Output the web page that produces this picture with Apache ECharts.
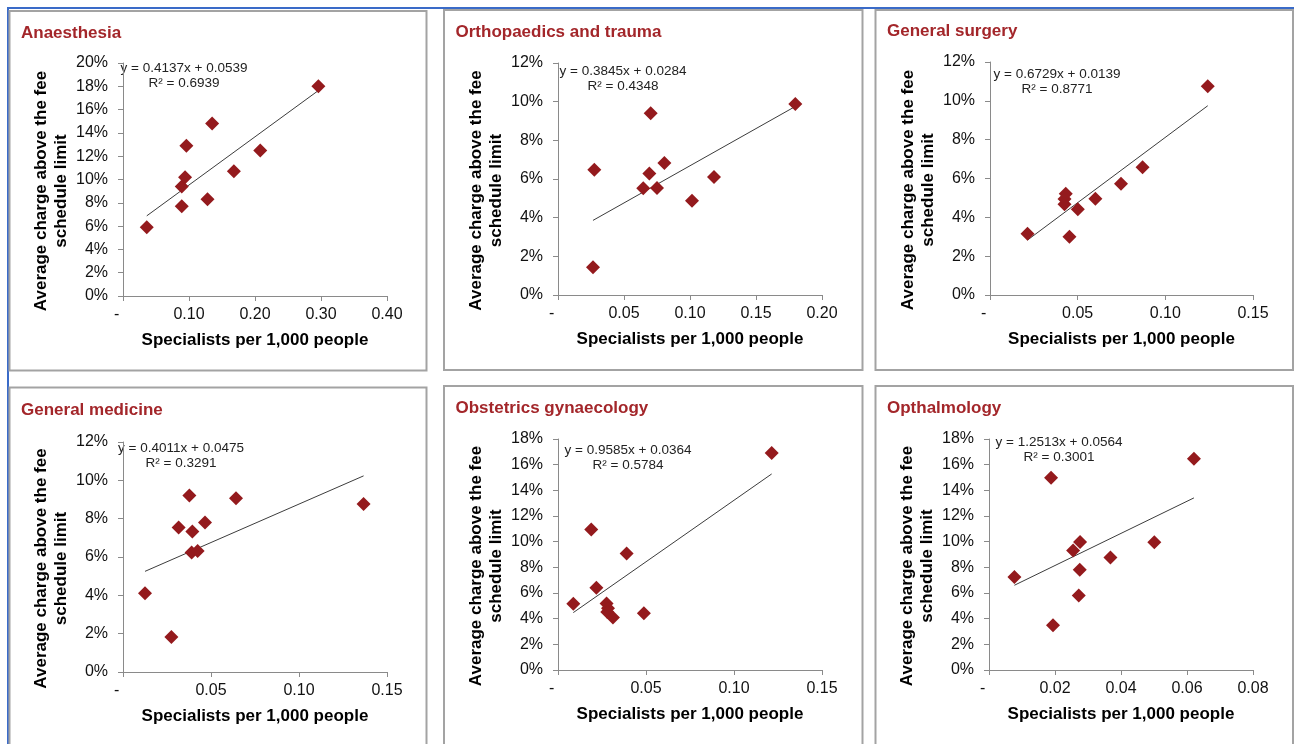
<!DOCTYPE html>
<html>
<head>
<meta charset="utf-8">
<title>Specialists per 1,000 people vs average charge above the fee schedule limit</title>
<script src="https://cdn.jsdelivr.net/npm/echarts@6/dist/echarts.min.js"></script>
<style>
  html, body { margin: 0; padding: 0; background: #ffffff; }
  #chart { width: 1294px; height: 744px; }
</style>
</head>
<body>
<div id="chart"></div>
<script>
// ---- data: specialists per 1,000 people (x) vs average charge above the fee schedule limit (y)
const titles = ['Anaesthesia', 'Orthopaedics and trauma', 'General surgery',
                'General medicine', 'Obstetrics gynaecology', 'Opthalmology'];

const anaesthesiaX  = [0.036, 0.089, 0.089, 0.094, 0.096, 0.135, 0.128, 0.168, 0.208, 0.296];
const anaesthesiaY  = [0.059, 0.077, 0.094, 0.102, 0.129, 0.148, 0.083, 0.107, 0.125, 0.180];

const orthopaedicsX = [0.0265, 0.0275, 0.0646, 0.0692, 0.0702, 0.0750, 0.0806, 0.1015, 0.1182, 0.1798];
const orthopaedicsY = [0.0143, 0.0648, 0.0552, 0.0629, 0.0940, 0.0553, 0.0683, 0.0488, 0.0610, 0.0988];

const surgeryX      = [0.0214, 0.0425, 0.0425, 0.0432, 0.0453, 0.0501, 0.0601, 0.0747, 0.0870, 0.1242];
const surgeryY      = [0.0316, 0.0467, 0.0494, 0.0522, 0.0300, 0.0441, 0.0496, 0.0573, 0.0658, 0.1075];

const medicineX     = [0.0125, 0.0275, 0.0316, 0.0377, 0.0394, 0.0390, 0.0424, 0.0466, 0.0642, 0.1367];
const medicineY     = [0.0411, 0.0182, 0.0754, 0.0921, 0.0733, 0.0623, 0.0631, 0.0780, 0.0907, 0.0877];

const obstetricsX   = [0.0087, 0.0189, 0.0218, 0.0276, 0.0284, 0.0280, 0.0312, 0.0390, 0.0488, 0.1214];
const obstetricsY   = [0.0516, 0.1094, 0.0641, 0.0519, 0.0482, 0.0451, 0.0410, 0.0908, 0.0443, 0.1691];

const opthalmologyX = [0.0077, 0.0188, 0.0194, 0.0255, 0.0276, 0.0275, 0.0272, 0.0368, 0.0501, 0.0621];
const opthalmologyY = [0.0724, 0.1499, 0.0348, 0.0931, 0.0998, 0.0781, 0.0581, 0.0877, 0.0996, 0.1647];

// linear trendline coefficients and fit quality as printed on each chart
const slopes     = [0.4137, 0.3845, 0.6729, 0.4011, 0.9585, 1.2513];
const intercepts = [0.0539, 0.0284, 0.0139, 0.0475, 0.0364, 0.0564];
const rSquared   = ['0.6939', '0.4348', '0.8771', '0.3291', '0.5784', '0.3001'];

// axis scales
const xMax  = [0.40, 0.20, 0.15, 0.15, 0.15, 0.08];
const xStep = [0.10, 0.05, 0.05, 0.05, 0.05, 0.02];
const yMax  = [0.20, 0.12, 0.12, 0.12, 0.18, 0.18];
const yStep = [0.02, 0.02, 0.02, 0.02, 0.02, 0.02];

const xSets = [anaesthesiaX, orthopaedicsX, surgeryX, medicineX, obstetricsX, opthalmologyX];
const ySets = [anaesthesiaY, orthopaedicsY, surgeryY, medicineY, obstetricsY, opthalmologyY];

// ---- layout
const FONT = '"Liberation Sans", Arial, Helvetica, sans-serif';
const TITLE_RED = '#A3262A';
const MARKER_RED = '#941A1D';
const AXIS_GREY = '#8a8a8a';

// panel frames [left, top, right, bottom]
const frames = [
  [9.5, 11, 426.5, 370.5], [444, 10, 862.5, 370], [875.5, 10, 1293, 370],
  [9.5, 387.5, 426.5, 760], [444, 386, 862.5, 760], [875.5, 386, 1293, 760]
];
// plot areas [left, top, width, height]
const plots = [
  [123, 63, 264, 233], [558, 63, 264, 232], [990, 62, 263, 233],
  [123, 442, 264, 230], [558, 439, 264, 231], [989, 439, 264, 231]
];
// equation label: first-line centre, offset from plot top-left
const eqOffsets = [[61, 5], [65, 8], [67, 12], [58, 6], [70, 11], [70, 3]];
const titleDy = [22, 22.5, 21, 22.5, 22, 22];

const grids = [], xAxes = [], yAxes = [], series = [], graphics = [];

// outer blue frame
graphics.push({ type: 'rect', shape: { x: 7, y: 7, width: 1294, height: 2 }, style: { fill: '#3A6BC8' }, silent: true });
graphics.push({ type: 'rect', shape: { x: 7, y: 7, width: 2, height: 740 }, style: { fill: '#3A6BC8' }, silent: true });

titles.forEach((title, i) => {
  const [fl, ft, fr, fb] = frames[i];
  const [gl, gt, gw, gh] = plots[i];

  graphics.push({
    type: 'rect', silent: true,
    shape: { x: fl, y: ft, width: fr - fl, height: fb - ft },
    style: { fill: 'none', stroke: '#a3a3a3', lineWidth: 2 }
  });
  graphics.push({
    type: 'text', silent: true, x: fl + 11.5, y: ft + titleDy[i],
    style: { text: title, font: 'bold 17px ' + FONT, fill: TITLE_RED, verticalAlign: 'middle', align: 'left' }
  });
  graphics.push({
    type: 'text', silent: true, x: gl - 71.6, y: gt + gh / 2 + 11.5, rotation: Math.PI / 2,
    style: {
      text: 'Average charge above the fee\nschedule limit',
      font: 'bold 17px ' + FONT, fill: '#000', align: 'center', verticalAlign: 'middle', lineHeight: 20
    }
  });
  graphics.push({
    type: 'text', silent: true, x: gl + eqOffsets[i][0], y: gt + eqOffsets[i][1] - 7.5,
    style: {
      text: 'y = ' + slopes[i].toFixed(4) + 'x + ' + intercepts[i].toFixed(4) + '\nR² = ' + rSquared[i],
      font: '13.5px ' + FONT, fill: '#222', align: 'center', verticalAlign: 'top', lineHeight: 15
    }
  });

  grids.push({ left: gl, top: gt, width: gw, height: gh, containLabel: false, outerBoundsMode: 'none' });

  xAxes.push({
    gridIndex: i, type: 'value', min: 0, max: xMax[i], interval: xStep[i],
    name: 'Specialists per 1,000 people', nameLocation: 'middle', nameGap: 36,
    nameTextStyle: { fontFamily: FONT, fontSize: 17, fontWeight: 'bold', color: '#000' },
    axisLine: { show: true, onZero: false, lineStyle: { color: AXIS_GREY, width: 1 } },
    axisTick: { show: true, inside: false, length: 5, lineStyle: { color: AXIS_GREY } },
    splitLine: { show: false },
    axisLabel: {
      margin: 11, fontFamily: FONT, fontSize: 16, color: '#111',
      showMinLabel: true, showMaxLabel: true,
      formatter: v => (v === 0 ? '-\u2002 ' : v.toFixed(2))
    }
  });

  yAxes.push({
    gridIndex: i, type: 'value', min: 0, max: yMax[i], interval: yStep[i],
    axisLine: { show: true, lineStyle: { color: AXIS_GREY, width: 1 } },
    axisTick: { show: true, inside: false, length: 5, lineStyle: { color: AXIS_GREY } },
    splitLine: { show: false },
    axisLabel: {
      margin: 15, fontFamily: FONT, fontSize: 16, color: '#111',
      showMinLabel: true, showMaxLabel: true,
      formatter: v => Math.round(v * 100) + '%'
    }
  });

  const xs = xSets[i], ys = ySets[i];
  series.push({
    type: 'scatter', xAxisIndex: i, yAxisIndex: i,
    symbol: 'diamond', symbolSize: 14,
    itemStyle: { color: MARKER_RED, opacity: 1 },
    data: xs.map((x, k) => [x, ys[k]]),
    silent: true, z: 3
  });

  // linear trendline spanning the observed x range
  const x0 = Math.min(...xs), x1 = Math.max(...xs);
  series.push({
    type: 'line', xAxisIndex: i, yAxisIndex: i,
    data: [[x0, slopes[i] * x0 + intercepts[i]], [x1, slopes[i] * x1 + intercepts[i]]],
    symbol: 'none', silent: true, z: 2,
    lineStyle: { color: '#3c3c3c', width: 1 }
  });
});

const chart = echarts.init(document.getElementById('chart'), null, { renderer: 'canvas' });
chart.setOption({
  animation: false,
  backgroundColor: '#ffffff',
  textStyle: { fontFamily: FONT },
  grid: grids,
  xAxis: xAxes,
  yAxis: yAxes,
  series: series,
  graphic: { elements: graphics }
});
</script>
</body>
</html>
